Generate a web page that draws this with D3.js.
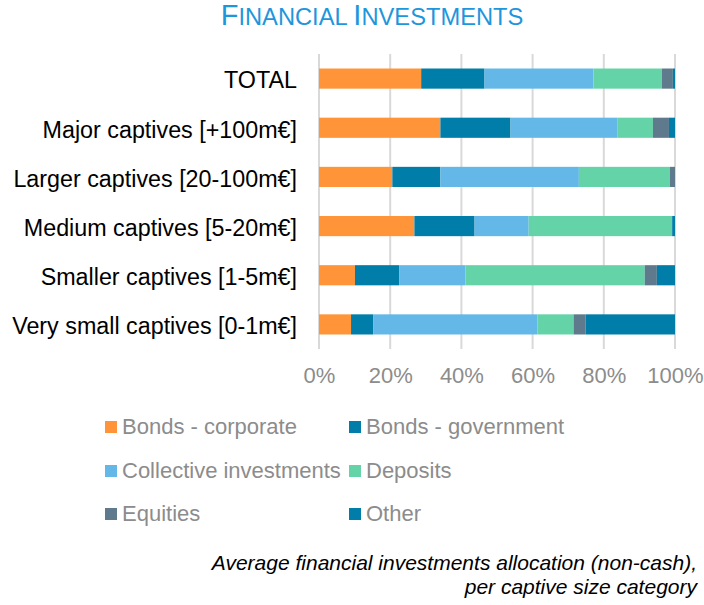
<!DOCTYPE html>
<html>
<head>
<meta charset="utf-8">
<script src="https://cdn.jsdelivr.net/npm/d3@7"></script>
<style>
  body { margin: 0; background: #fff; }
  text { font-family: "Liberation Sans", Arial, sans-serif; }
</style>
</head>
<body>
<div id="chart"></div>
<script>
// categories, top to bottom
const categories = [
    "TOTAL",
    "Major captives [+100m€]",
    "Larger captives [20-100m€]",
    "Medium captives [5-20m€]",
    "Smaller captives [1-5m€]",
    "Very small captives [0-1m€]"
];

const seriesNames = [
    "Bonds - corporate",
    "Bonds - government",
    "Collective investments",
    "Deposits",
    "Equities",
    "Other"
];

// percentages per category (same order as categories)
const bondsCorporate  = [28.7, 34.1, 20.6, 26.8, 10.1,  9.0];
const bondsGovernment = [17.8, 19.7, 13.5, 16.9, 12.4,  6.2];
const collective      = [30.6, 30.1, 38.9, 15.2, 18.6, 46.2];
const deposits        = [19.2,  9.9, 25.6, 40.3, 50.4, 10.1];
const equities        = [ 3.1,  4.5,  1.4,  0.0,  3.4,  3.4];
const other           = [ 0.6,  1.7,  0.0,  0.8,  5.1, 25.1];

const tickValues = [0, 20, 40, 60, 80, 100];

const colors = ["#FF9439", "#007DA8", "#64B8E8", "#64D4A8", "#5E7A8C", "#007DA8"];

// build the table for the stack
const table = categories.map((c, i) => ({
    category: c,
    "Bonds - corporate": bondsCorporate[i],
    "Bonds - government": bondsGovernment[i],
    "Collective investments": collective[i],
    "Deposits": deposits[i],
    "Equities": equities[i],
    "Other": other[i]
}));

const W = 704, H = 605;
const svg = d3.select("#chart").append("svg")
    .attr("width", W)
    .attr("height", H);

// title, small caps done by hand (big initials, smaller capitals)
const title = svg.append("text")
    .attr("x", 372)
    .attr("y", 25)
    .attr("text-anchor", "middle")
    .attr("fill", "#1E96DC");
[["F", 29], ["INANCIAL ", 23.7], ["I", 29], ["NVESTMENTS", 23.7]].forEach(p => {
    title.append("tspan").attr("font-size", p[1]).text(p[0]);
});

const x = d3.scaleLinear()
    .domain([0, 100])
    .range([319, 675]);

const y = d3.scaleBand()
    .domain(categories)
    .range([54, 349])
    .paddingInner(0.59)
    .paddingOuter(0.295);

// gridlines
svg.append("g")
    .selectAll("line")
    .data(tickValues)
    .join("line")
    .attr("x1", d => x(d))
    .attr("x2", d => x(d))
    .attr("y1", 54)
    .attr("y2", 349)
    .attr("stroke", "#D9D9D9")
    .attr("stroke-width", 2);

// stacked bars
const stack = d3.stack().keys(seriesNames);
const layers = stack(table);

svg.append("g")
    .selectAll("g")
    .data(layers)
    .join("g")
    .attr("fill", (d, i) => colors[i])
    .selectAll("rect")
    .data(d => d)
    .join("rect")
    .attr("x", d => x(d[0]))
    .attr("y", d => y(d.data.category))
    .attr("width", d => x(d[1]) - x(d[0]))
    .attr("height", y.bandwidth());

// category labels
const yAxis = svg.append("g")
    .attr("transform", "translate(319,0)")
    .call(d3.axisLeft(y).tickSize(0).tickPadding(22));
yAxis.select(".domain").remove();
yAxis.selectAll("text")
    .attr("font-size", 23.3)
    .attr("dy", "0.42em")
    .attr("fill", "#000")
    .style("font-family", "'Liberation Sans', Arial, sans-serif");

// x axis labels
const xAxis = svg.append("g")
    .attr("transform", "translate(0,349)")
    .call(d3.axisBottom(x).tickValues(tickValues).tickSize(0).tickPadding(18).tickFormat(d => d + "%"));
xAxis.select(".domain").remove();
xAxis.selectAll("text")
    .attr("font-size", 22)
    .attr("fill", "#8C8C8C")
    .style("font-family", "'Liberation Sans', Arial, sans-serif");

// legend
const legendPos = [
    [105, 427], [349, 427],
    [105, 471], [349, 471],
    [105, 514], [349, 514]
];
const legend = svg.append("g")
    .selectAll("g")
    .data(seriesNames)
    .join("g")
    .attr("transform", (d, i) => `translate(${legendPos[i][0]},${legendPos[i][1]})`);
legend.append("rect")
    .attr("x", 0)
    .attr("y", -6)
    .attr("width", 12)
    .attr("height", 12)
    .attr("fill", (d, i) => colors[i]);
legend.append("text")
    .attr("x", 17)
    .attr("y", 7)
    .attr("font-size", 22)
    .attr("fill", "#8C8C8C")
    .text(d => d);

// footnote
const foot = svg.append("text")
    .attr("text-anchor", "end")
    .attr("font-size", 21)
    .attr("font-style", "italic")
    .attr("fill", "#000");
foot.append("tspan").attr("x", 697).attr("y", 570).text("Average financial investments allocation (non-cash),");
foot.append("tspan").attr("x", 697).attr("y", 594).text("per captive size category");
</script>
</body>
</html>
